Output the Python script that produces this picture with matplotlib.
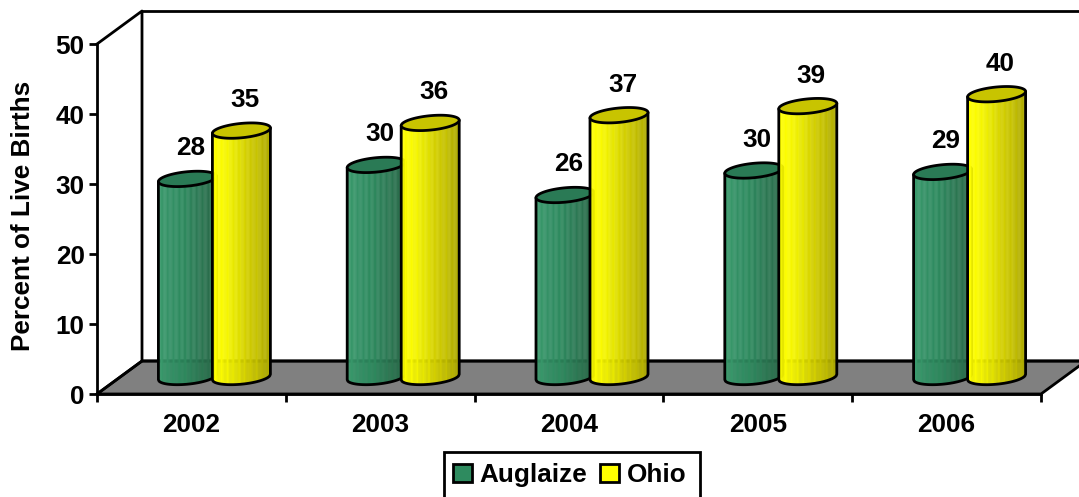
import numpy as np
import matplotlib
matplotlib.use("Agg")
import matplotlib.pyplot as plt
from matplotlib.collections import PolyCollection
from matplotlib.colors import LinearSegmentedColormap
from matplotlib.patches import Patch, Polygon, Rectangle

years = ["2002", "2003", "2004", "2005", "2006"]
auglaize_heights = [28.3, 30.3, 26.0, 29.5, 29.3]
ohio_heights = [35.2, 36.3, 37.4, 38.7, 40.4]
auglaize_labels = ["28", "30", "26", "30", "29"]
ohio_labels = ["35", "36", "37", "39", "40"]
y_ticks = [0, 10, 20, 30, 40, 50]

W, H = 1079, 497
plt.rcParams["font.family"] = ["Liberation Sans", "DejaVu Sans"]
plt.rcParams["font.weight"] = "bold"
FS = 18.8

fig = plt.figure(figsize=(W / 100, H / 100), dpi=100)
x0, x1, y0, y1 = 97, 1041, 394, 44
ax = fig.add_axes([x0 / W, 1 - y0 / H, (x1 - x0) / W, (y0 - y1) / H])
ax.set_xlim(0, 5)
ax.set_ylim(0, 50)
ax.patch.set_visible(False)

px = 5 / (x1 - x0)
py = 50 / (y0 - y1)
DX, DY = 45 * px, 33 * py
LW = 2.0

# floor and walls
ax.add_patch(Polygon([(0, 0), (DX, DY), (5 + DX, DY), (5, 0)], closed=True,
                     facecolor="#808080", edgecolor="black", lw=LW,
                     clip_on=False, zorder=1, joinstyle="round"))
ax.plot([0, DX, DX, 5 + DX], [50, 50 + DY, DY, DY], color="black", lw=LW,
        clip_on=False, zorder=1.5)
ax.plot([DX, 5 + DX], [50 + DY, 50 + DY], color="black", lw=LW,
        clip_on=False, zorder=1.5)
ax.plot([0, DX], [0, DY], color="black", lw=LW, clip_on=False, zorder=1.5)

green_map = LinearSegmentedColormap.from_list(
    "g", ["#3a9a6c", "#339065", "#2e8b5f", "#2d8059", "#2b7450", "#296a4a"])
yellow_map = LinearSegmentedColormap.from_list(
    "y", ["#ffff00", "#f8f800", "#e6e600", "#d4d000", "#c4c000", "#b0ac00"])

half_w = 29 * px
ell = 7.2 * py
tilt = 2.7 * py
base = 17 * py
n = 48


def cylinder(cx, h, cmap, top_color, z):
    top = base + h
    edges = np.linspace(-1, 1, n + 1)
    polys, cols = [], []
    for a, b in zip(edges[:-1], edges[1:]):
        ya = -ell * np.sqrt(max(0, 1 - a * a)) + tilt * a
        yb = -ell * np.sqrt(max(0, 1 - b * b)) + tilt * b
        polys.append([(cx + half_w * a, base + ya), (cx + half_w * b, base + yb),
                      (cx + half_w * b, top + tilt * b), (cx + half_w * a, top + tilt * a)])
        t = (a + b) / 4 + 0.5
        # banded shading like the source's stepped gradient
        cols.append(cmap(np.floor(t * 14) / 13))
    ax.add_collection(PolyCollection(polys, facecolors=cols, edgecolors=cols, lw=0.3,
                                     zorder=z, clip_on=False), autolim=False)
    u = np.linspace(-1, 1, 90)
    low = base - ell * np.sqrt(1 - u * u) + tilt * u
    outline = np.r_[np.c_[cx + half_w * u, low], [[cx + half_w, top + tilt]],
                    [[cx - half_w, top - tilt]]]
    ax.add_patch(Polygon(outline, closed=True, fill=False, edgecolor="black", lw=LW,
                         zorder=z + 0.1, clip_on=False, joinstyle="round"))
    v = np.linspace(0, 2 * np.pi, 90)
    uu = np.cos(v)
    ring = np.c_[cx + half_w * uu, top + ell * np.sin(v) + tilt * uu]
    ax.add_patch(Polygon(ring, closed=True, facecolor=top_color, edgecolor="black", lw=LW,
                         zorder=z + 0.2, clip_on=False))


for i in range(len(years)):
    boundary = i + 0.5 + 21 * px
    gx = boundary - 25 * px
    yx = boundary + 29 * px
    cylinder(gx, auglaize_heights[i], green_map, "#2a7a55", 2 + i * 2)
    cylinder(yx, ohio_heights[i], yellow_map, "#c8c400", 3 + i * 2)
    ax.annotate(auglaize_labels[i], (gx, base + auglaize_heights[i]), xytext=(2.5, 22),
                textcoords="offset points", ha="center", va="center", fontsize=FS,
                fontweight="bold", zorder=20, annotation_clip=False)
    ax.annotate(ohio_labels[i], (yx, base + ohio_heights[i]), xytext=(2.5, 22),
                textcoords="offset points", ha="center", va="center", fontsize=FS,
                fontweight="bold", zorder=20, annotation_clip=False)

for s in ("top", "right"):
    ax.spines[s].set_visible(False)
for s in ("left", "bottom"):
    ax.spines[s].set_linewidth(LW)
    ax.spines[s].set_zorder(1.6)

ax.set_yticks(y_ticks)
ax.set_xticks(range(6))
ax.set_xticklabels([])
ax.set_xticks(np.arange(5) + 0.5, labels=years, minor=True)
ax.tick_params(axis="both", which="major", length=5.8, width=LW, labelsize=FS, pad=3)
ax.tick_params(axis="x", which="minor", length=0, labelsize=FS, pad=13.5)
ax.set_ylabel("Percent of Live Births", fontsize=FS, fontweight="bold", labelpad=0)
ax.yaxis.set_label_coords((35 - x0) / (x1 - x0), 0.51)

# legend frame runs off the bottom of the picture, as in the source
fig.add_artist(Rectangle((444 / W, -0.02), 256 / W, 1 - 452 / H + 0.02,
                         transform=fig.transFigure, facecolor="white",
                         edgecolor="black", lw=LW, zorder=5))
handles = [Patch(facecolor="#2e8b5f", edgecolor="black", lw=LW, label="Auglaize"),
           Patch(facecolor="#ffff00", edgecolor="black", lw=LW, label="Ohio")]
leg = ax.legend(handles=handles, ncol=2, loc="upper left",
                bbox_to_anchor=(453 / W, 1 - 463 / H), bbox_transform=fig.transFigure,
                fontsize=FS, frameon=False, borderpad=0, borderaxespad=0,
                handlelength=0.72, handleheight=0.72,
                handletextpad=0.3, columnspacing=0.5)
leg.set_zorder(6)
ax.set_zorder(6)

fig.savefig("out.png", dpi=100)
